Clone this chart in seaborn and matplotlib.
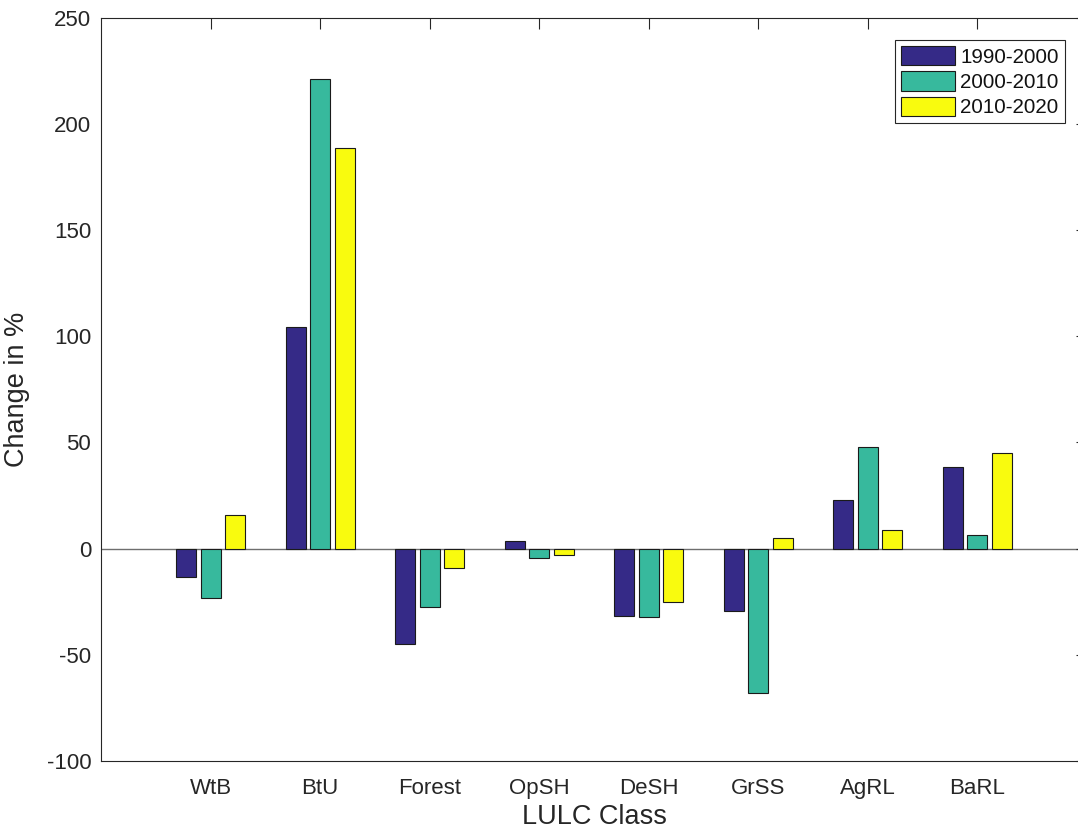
import matplotlib
matplotlib.use("Agg")
import matplotlib.pyplot as plt
import seaborn as sns
import pandas as pd

# Percentage change of each land-use / land-cover class per decade
classes = ["WtB", "BtU", "Forest", "OpSH", "DeSH", "GrSS", "AgRL", "BaRL"]
periods = ["1990-2000", "2000-2010", "2010-2020"]
change_1990_2000 = [-13.3, 104.4, -44.7, 3.6, -31.9, -29.3, 22.7, 38.6]
change_2000_2010 = [-23.2, 221.1, -27.3, -4.4, -32.2, -67.9, 48.0, 6.5]
change_2010_2020 = [15.9, 188.5, -9.2, -2.8, -25.1, 5.0, 8.8, 45.1]
colors = ["#352a87", "#37b99d", "#f9fb0e"]

yticks = [-100, -50, 0, 50, 100, 150, 200, 250]

df = pd.DataFrame({
    "LULC Class": classes * 3,
    "Change": change_1990_2000 + change_2000_2010 + change_2010_2020,
    "Period": [p for p in periods for _ in classes],
})

sns.set_style("white")
plt.rcParams["font.family"] = ["Liberation Sans", "DejaVu Sans"]
axis_col = "#262626"

fig = plt.figure(figsize=(10.78, 8.32), dpi=100)
ax = fig.add_axes([101 / 1078, 1 - 761 / 832, 986 / 1078, (761 - 17.5) / 832])

# baseline at zero, behind the bars
ax.axhline(0, color="#6e6e6e", lw=1.0, zorder=0.5)

sns.barplot(data=df, x="LULC Class", y="Change", hue="Period",
            palette=colors, hue_order=periods, order=classes,
            width=0.668, gap=0.18, saturation=1, errorbar=None,
            edgecolor="#1a1a1a", linewidth=0.8, ax=ax, zorder=2)

ax.set_xlim(-1, 8)
ax.set_ylim(-100, 250)
ax.set_yticks(yticks)
ax.set_yticklabels([str(v) for v in yticks])

for s in ax.spines.values():
    s.set_visible(True)
    s.set_color(axis_col)
    s.set_linewidth(0.8)

ax.tick_params(axis="both", direction="in", length=8, width=0.8,
               color=axis_col, labelcolor=axis_col, labelsize=16,
               top=True, right=True)
ax.tick_params(axis="y", pad=7)
ax.tick_params(axis="x", pad=12)

ax.set_xlabel("LULC Class", fontsize=19.5, color=axis_col, labelpad=4)
ax.set_ylabel("Change in %", fontsize=19.5, color=axis_col, labelpad=12)

leg = ax.legend(loc="upper right", bbox_to_anchor=(1065 / 1078, 1 - 40 / 832),
                bbox_transform=fig.transFigure, borderaxespad=0,
                fontsize=14.8, frameon=True, fancybox=False, framealpha=1,
                handlelength=2.62, handleheight=1.05, labelspacing=0.23,
                handletextpad=0.25, borderpad=0.3, title=None)
leg.get_frame().set_edgecolor(axis_col)
leg.get_frame().set_linewidth(0.8)
for t in leg.get_texts():
    t.set_color("#111111")

fig.savefig("out.png", dpi=100)
